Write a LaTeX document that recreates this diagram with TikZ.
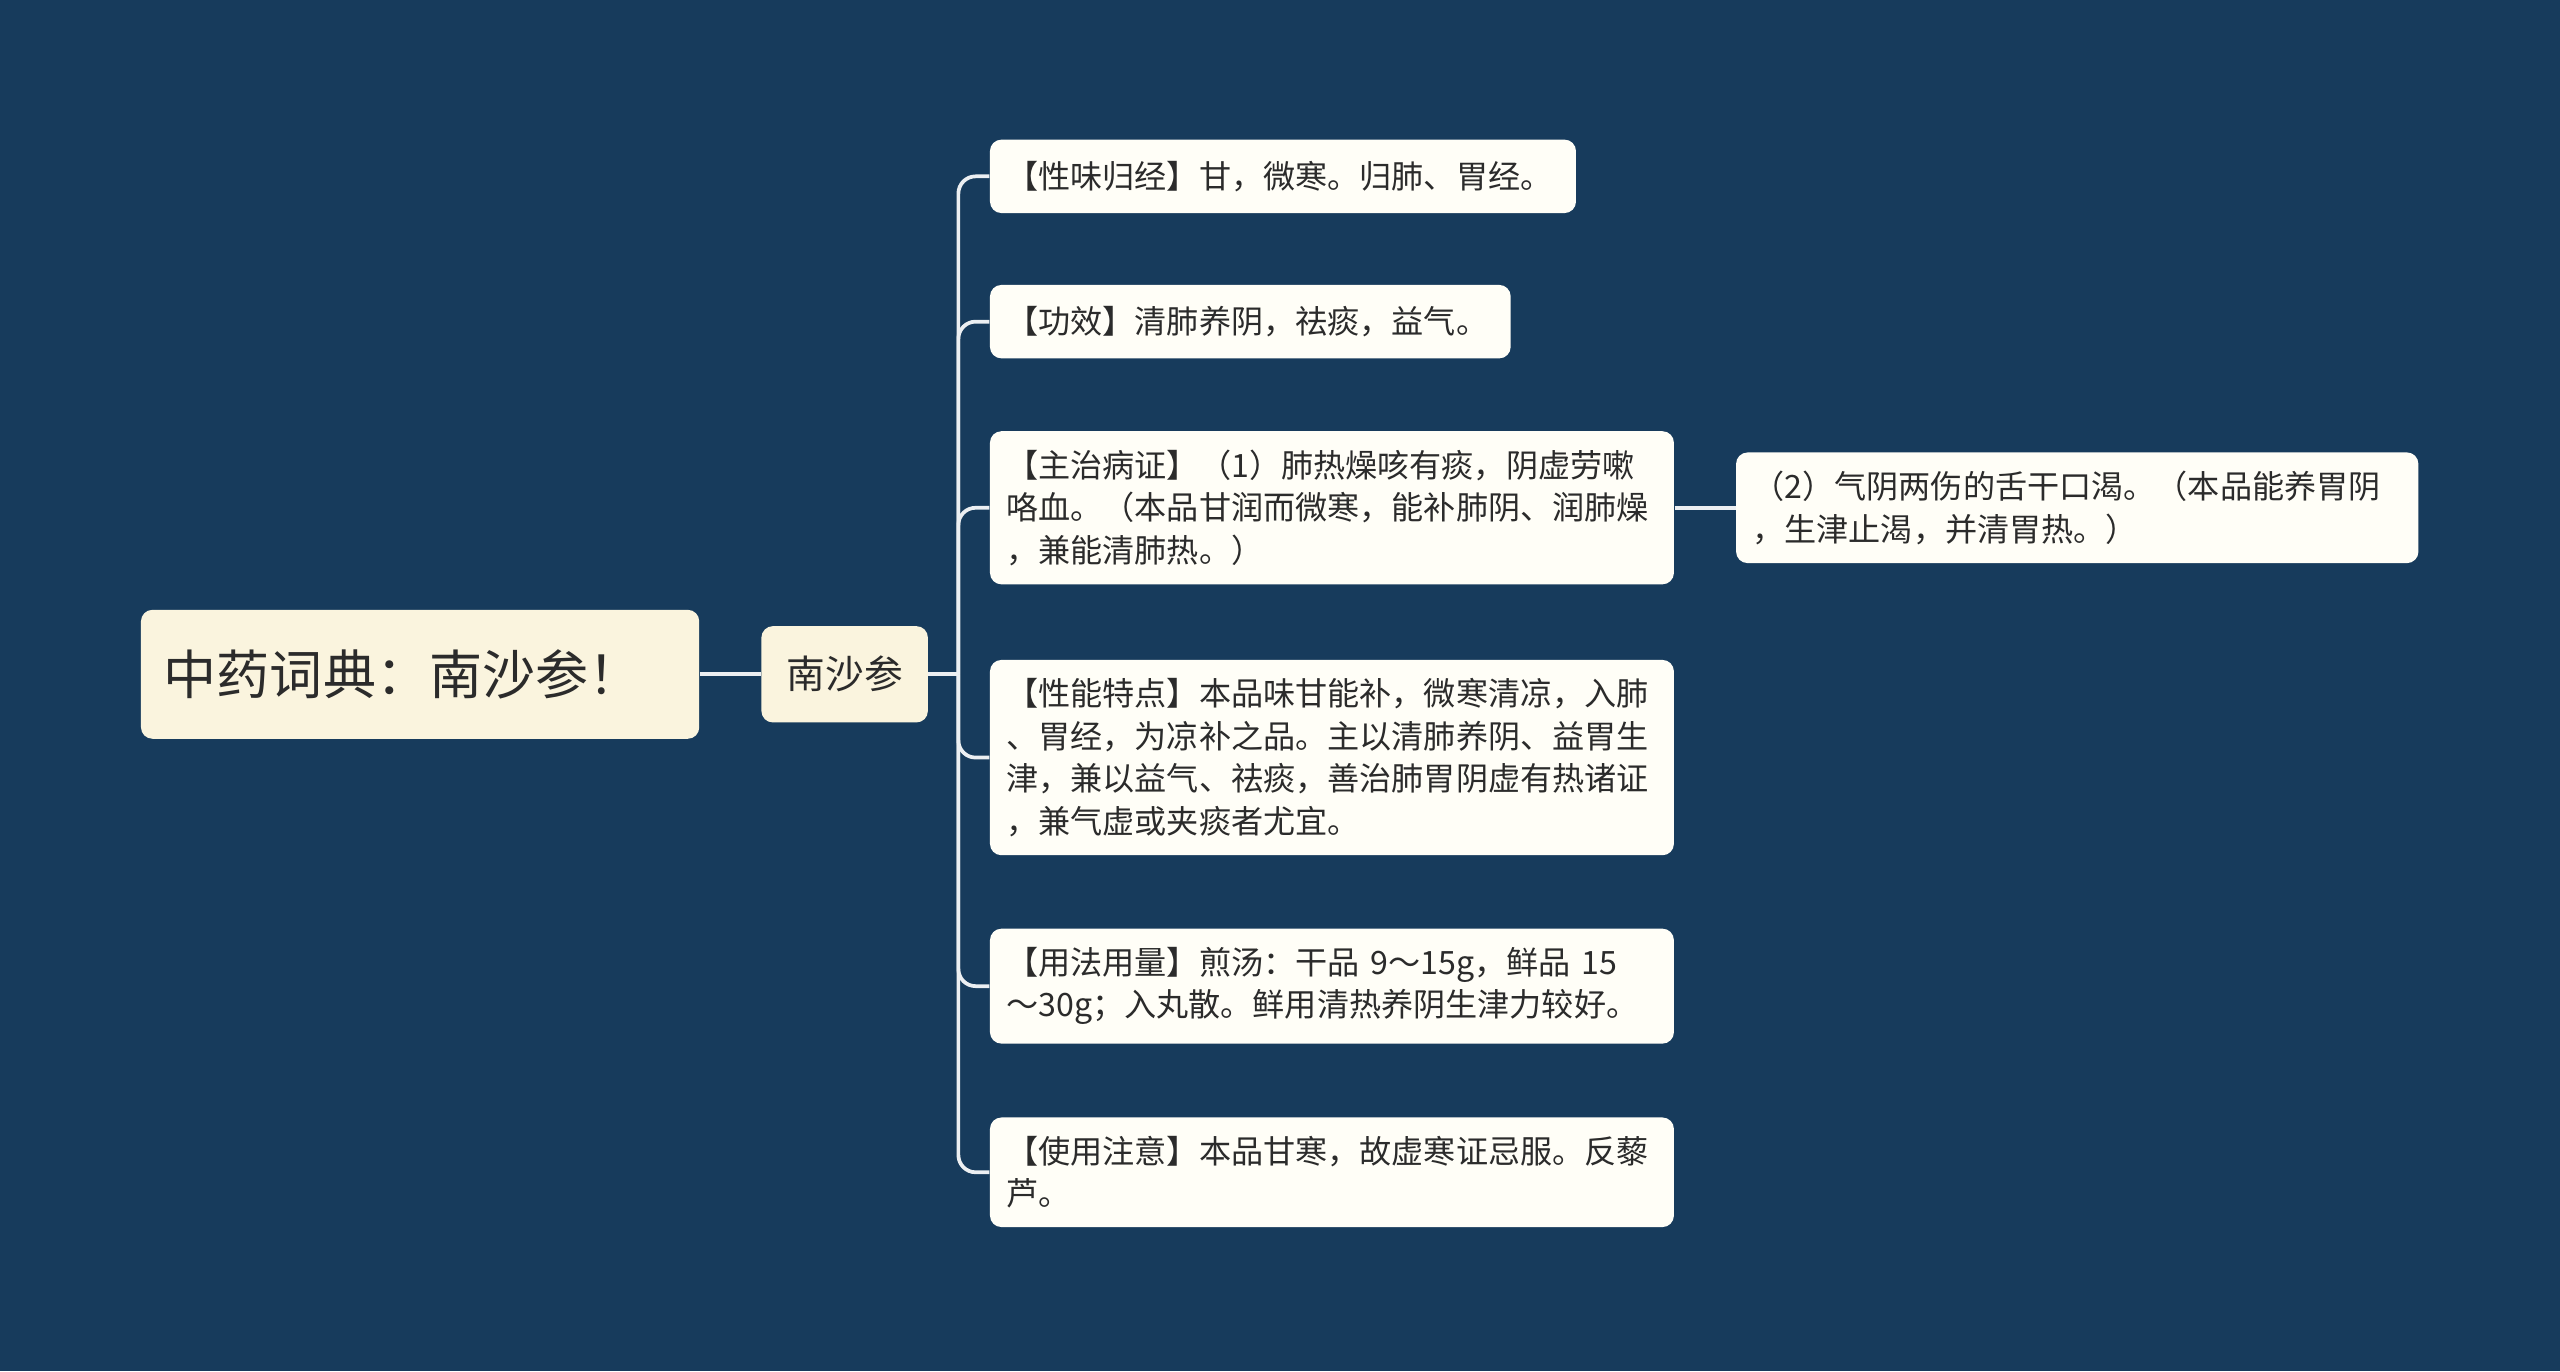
\documentclass[tikz,border=0pt]{standalone}
\usepackage{fontspec}
\setmainfont{Noto Sans CJK SC}
\XeTeXlinebreaklocale "zh"
\definecolor{bgblue}{HTML}{173B5C}
\definecolor{rootfill}{HTML}{FAF4DE}
\definecolor{leaffill}{HTML}{FFFEF7}
\definecolor{txt}{HTML}{2B2B2B}
\begin{document}
\begin{tikzpicture}[x=0.02cm,y=-0.02cm,
  box/.style={draw=none, rounded corners=4pt, text=txt, anchor=west, align=left},
  leaf/.style={box, fill=leaffill, inner xsep=0.2cm, inner ysep=6.5pt, font=\fontsize{11.2}{14.8}\selectfont},
  link/.style={draw=white!92!bgblue, line width=1.3pt, rounded corners=6pt}]
  \fill[bgblue] (0,0) rectangle (1568,840);
  \useasboundingbox (0,0) rectangle (1568,840);

  \node[box, fill=rootfill, text width=6.28cm, minimum height=1.58cm, inner xsep=0.28cm,
        font=\fontsize{18.5}{22}\selectfont] (root) at (86,413) {\mbox{中药词典：南沙参！}};
  \node[box, fill=rootfill, minimum width=2.04cm, minimum height=1.18cm, align=center,
        font=\fontsize{13.5}{16}\selectfont] (herb) at (466,413) {南沙参};

  \node[leaf, text width=6.78cm, minimum height=0.9cm] (c1) at (606,108) {【性味归经】甘，微寒。归肺、胃经。};
  \node[leaf, text width=5.98cm, minimum height=0.9cm] (c2) at (606,197) {【功效】清肺养阴，祛痰，益气。};
  \node[leaf, text width=7.98cm] (c3) at (606,311) {【主治病证】（1）肺热燥咳有痰，阴虚劳嗽\\咯血。（本品甘润而微寒，能补肺阴、润肺燥\\，兼能清肺热。）};
  \node[leaf, text width=7.98cm] (c4) at (606,464) {【性能特点】本品味甘能补，微寒清凉，入肺\\、胃经，为凉补之品。主以清肺养阴、益胃生\\津，兼以益气、祛痰，善治肺胃阴虚有热诸证\\，兼气虚或夹痰者尤宜。};
  \node[leaf, text width=7.98cm] (c5) at (606,604) {【用法用量】煎汤：干品 9～15g，鲜品 15\\～30g；入丸散。鲜用清热养阴生津力较好。};
  \node[leaf, text width=7.98cm] (c6) at (606,718) {【使用注意】本品甘寒，故虚寒证忌服。反藜\\芦。};
  \node[leaf, text width=7.96cm] (g1) at (1063,311) {（2）气阴两伤的舌干口渴。（本品能养胃阴\\，生津止渴，并清胃热。）};

  \coordinate (trunk) at (587,413);
  \draw[link] (root.east) -- (herb.west);
  \draw[link] (herb.east) -- (trunk);
  \foreach \c in {c1,c2,c3,c4,c5,c6}
    \draw[link] (trunk) |- (\c.west);
  \draw[link] (c3.east) -- (g1.west);
\end{tikzpicture}
\end{document}
